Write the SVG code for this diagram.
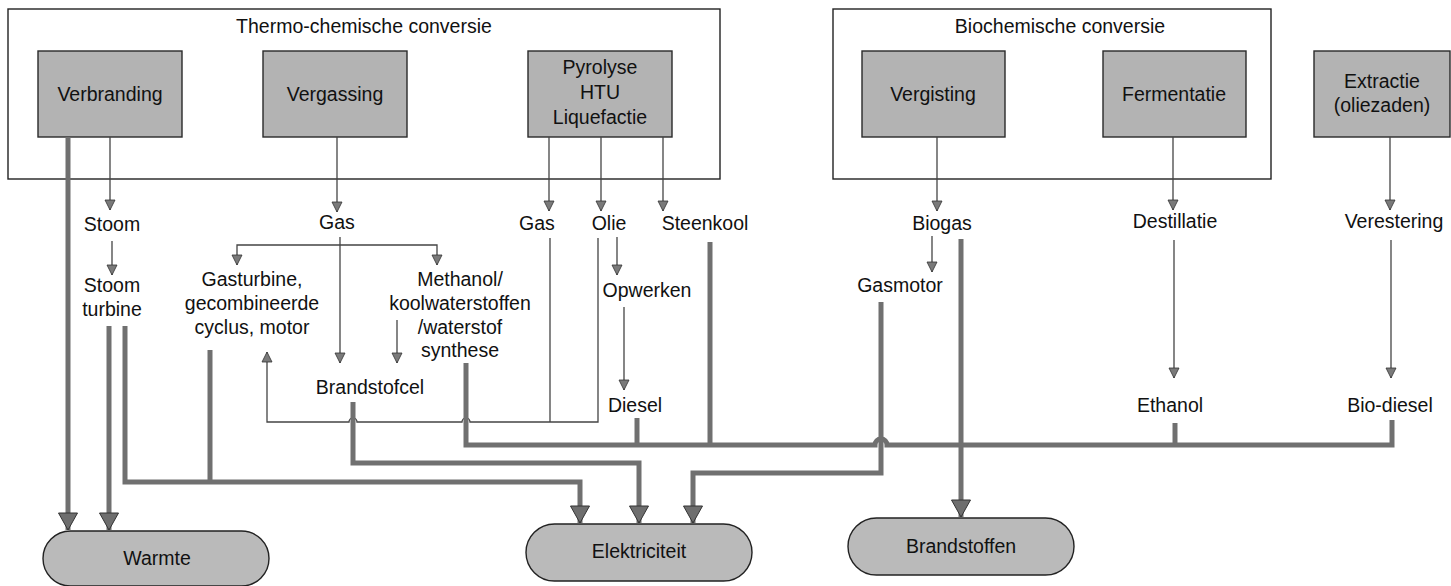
<svg xmlns="http://www.w3.org/2000/svg" width="1451" height="586" viewBox="0 0 1451 586">
<style>
text{font-family:"Liberation Sans",Arial,sans-serif;font-size:19.5px;fill:#111;text-anchor:middle}
.frame{fill:none;stroke:#222;stroke-width:1.4}
.box{fill:#b3b3b3;stroke:#2a2a2a;stroke-width:1.4}
.pill{fill:#bababa;stroke:#222;stroke-width:1.4}
.thin{fill:none;stroke:#444;stroke-width:1.3}
.thick{fill:none;stroke:#707070;stroke-width:5}
</style>
<defs>
<marker id="ah" markerUnits="userSpaceOnUse" markerWidth="12" markerHeight="12" refX="10" refY="5" orient="auto" viewBox="-1 -1 12 12">
<path d="M0,0 L10,5 L0,10 z" fill="#7a7a7a" stroke="#333" stroke-width="0.8"/>
</marker>
<marker id="bh" markerUnits="userSpaceOnUse" markerWidth="20" markerHeight="22" refX="17" refY="9.5" orient="auto" viewBox="-1 -1 20 22">
<path d="M0,0 L17,9.5 L0,19 z" fill="#6e6e6e" stroke="#333" stroke-width="1"/>
</marker>
</defs>

<g id="thermo-chemische-conversie">
<rect class="frame" x="8" y="9" width="712" height="170"/>
<text x="364" y="33">Thermo-chemische conversie</text>
</g>
<g id="biochemische-conversie">
<rect class="frame" x="833" y="9" width="438" height="170"/>
<text x="1060" y="33">Biochemische conversie</text>
</g>

<g id="verbranding"><rect class="box" x="38" y="51" width="144" height="86"/><text x="110" y="101">Verbranding</text></g>
<g id="vergassing"><rect class="box" x="263" y="51" width="144" height="86"/><text x="335" y="101">Vergassing</text></g>
<g id="pyrolyse"><rect class="box" x="528" y="51" width="144" height="86"/><text x="600" y="74">Pyrolyse</text><text x="600" y="99">HTU</text><text x="600" y="124">Liquefactie</text></g>
<g id="vergisting"><rect class="box" x="862" y="51" width="143" height="86"/><text x="933" y="101">Vergisting</text></g>
<g id="fermentatie"><rect class="box" x="1103" y="51" width="143" height="86"/><text x="1174" y="101">Fermentatie</text></g>
<g id="extractie"><rect class="box" x="1314" y="51" width="136" height="86"/><text x="1382" y="88">Extractie</text><text x="1382" y="112">(oliezaden)</text></g>

<g id="stoom"><text x="112" y="231">Stoom</text></g>
<g id="stoom-turbine"><text x="112" y="292">Stoom</text><text x="112" y="316">turbine</text></g>
<g id="gas-vergassing"><text x="337" y="229">Gas</text></g>
<g id="gasturbine"><text x="252" y="286">Gasturbine,</text><text x="252" y="310">gecombineerde</text><text x="252" y="334">cyclus, motor</text></g>
<g id="methanol"><text x="460" y="286">Methanol/</text><text x="460" y="310">koolwaterstoffen</text><text x="460" y="334">/waterstof</text><text x="460" y="357">synthese</text></g>
<g id="brandstofcel"><text x="370" y="394">Brandstofcel</text></g>
<g id="gas-pyrolyse"><text x="537" y="230">Gas</text></g>
<g id="olie"><text x="609" y="230">Olie</text></g>
<g id="steenkool"><text x="705" y="230">Steenkool</text></g>
<g id="opwerken"><text x="647" y="297">Opwerken</text></g>
<g id="diesel"><text x="635" y="412">Diesel</text></g>
<g id="biogas"><text x="942" y="230">Biogas</text></g>
<g id="gasmotor"><text x="900" y="292">Gasmotor</text></g>
<g id="destillatie"><text x="1175" y="228">Destillatie</text></g>
<g id="ethanol"><text x="1170" y="412">Ethanol</text></g>
<g id="verestering"><text x="1394" y="228">Verestering</text></g>
<g id="bio-diesel"><text x="1390" y="412">Bio-diesel</text></g>

<g id="warmte"><rect class="pill" x="43" y="531" width="226" height="55" rx="27.5"/><text x="157" y="565">Warmte</text></g>
<g id="elektriciteit"><rect class="pill" x="526" y="524" width="226" height="57" rx="28.5"/><text x="639" y="558">Elektriciteit</text></g>
<g id="brandstoffen"><rect class="pill" x="848" y="518" width="226" height="57" rx="28.5"/><text x="961" y="553">Brandstoffen</text></g>

<g id="connectors">
<g class="thin" marker-end="url(#ah)">
<path d="M110,137 V210"/>
<path d="M337,137 V212"/>
<path d="M549,137 V211"/>
<path d="M601,137 V211"/>
<path d="M663,137 V211"/>
<path d="M937,137 V211"/>
<path d="M1173,137 V210"/>
<path d="M1390,137 V210"/>
<path d="M112,241 V275"/>
<path d="M340,237 V363"/>
<path d="M340,245 H237 V265"/>
<path d="M340,245 H437 V265"/>
<path d="M397,320 V363"/>
<path d="M617,237 V275"/>
<path d="M624,307 V390"/>
<path d="M932,236 V272"/>
<path d="M1174,240 V378"/>
<path d="M1391,240 V378"/>
<path d="M598,238 V422 H470 A4,4 0 0 0 462,422 H357 A4,4 0 0 0 349,422 H267 V352"/>
</g>
<path class="thin" d="M550,238 V422"/>
<g class="thick">
<path d="M68,137 V530" marker-end="url(#bh)"/>
<path d="M109,326 V530" marker-end="url(#bh)"/>
<path d="M125,326 V482 H580 V523" marker-end="url(#bh)"/>
<path d="M210,350 V482"/>
<path d="M353,402 V463 H639 V523" marker-end="url(#bh)"/>
<path d="M881,302 V473 H693 V523" marker-end="url(#bh)"/>
<path d="M961,239 V517" marker-end="url(#bh)"/>
<path d="M466,363 V445 H875 A6,6 0 0 1 887,445 H1392 V420"/>
<path d="M637,418 V445"/>
<path d="M710,242 V445"/>
<path d="M1175,423 V445"/>
</g>
</g>
</svg>
